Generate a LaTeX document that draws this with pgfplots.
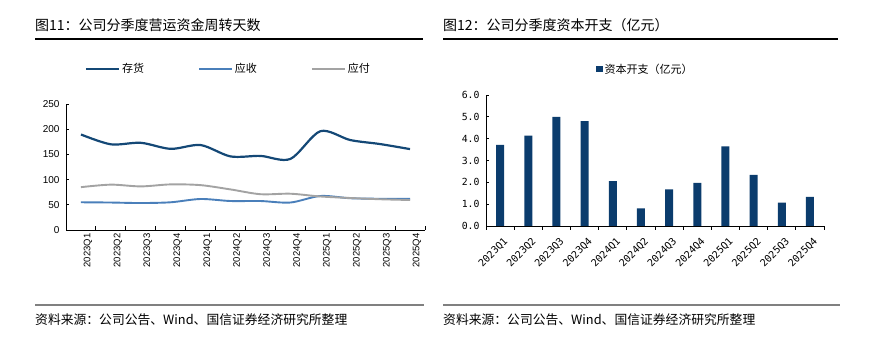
\documentclass[border=0pt]{standalone}
\usepackage{fontspec}
\usepackage{pgfplots}
\pgfplotsset{compat=1.18}
\setmainfont{Liberation Sans}
\newfontfamily\cjk{Noto Sans CJK SC}
\newfontfamily\monof{DejaVu Sans Mono}
\definecolor{cinv}{HTML}{144876}
\definecolor{crec}{HTML}{4A7FBA}
\definecolor{cpay}{HTML}{A3A3A3}
\definecolor{cbar}{HTML}{0B3C6D}
\definecolor{cfoot}{HTML}{808080}
\begin{document}
\begin{tikzpicture}[x=1pt,y=1pt]
\path[use as bounding box] (0,0) rectangle (875,350);
% titles
\node[anchor=west,inner sep=0pt,font=\cjk\fontsize{14}{16}\selectfont] at (35,325) {图11：公司分季度营运资金周转天数};
\draw[line width=1.2pt,black] (35,311) -- (423,311);
\node[anchor=west,inner sep=0pt,font=\cjk\fontsize{14}{16}\selectfont] at (443,325) {图12：公司分季度资本开支（亿元）};
\draw[line width=1.2pt,black] (443,311) -- (838,311);
% footers
\draw[line width=1.5pt,cfoot] (35,45) -- (424,45);
\draw[line width=1.5pt,cfoot] (443,45) -- (840,45);
\node[anchor=west,inner sep=0pt,font=\cjk\fontsize{12.8}{14}\selectfont] at (35,30) {资料来源：公司公告、Wind、国信证券经济研究所整理};
\node[anchor=west,inner sep=0pt,font=\cjk\fontsize{12.8}{14}\selectfont] at (443,30) {资料来源：公司公告、Wind、国信证券经济研究所整理};

% left chart
\begin{axis}[
  at={(66pt,120pt)}, anchor=south west,
  scale only axis, width=359pt, height=126pt,
  xmin=-0.5, xmax=11.5, ymin=0, ymax=250,
  axis x line=bottom, axis y line=left,
  axis line style={-, line width=0.9pt, black},
  tick align=inside,
  xtick={0,...,11},
  xticklabels={2023Q1,2023Q2,2023Q3,2023Q4,2024Q1,2024Q2,2024Q3,2024Q4,2025Q1,2025Q2,2025Q3,2025Q4},
  major x tick style={draw=none},
  minor xtick={-0.5,0.5,...,11.5},
  minor tick length=4pt,
  minor x tick style={line width=0.9pt,black},
  ytick={0,50,...,250},
  major tick length=3pt,
  y tick style={line width=0.9pt,black},
  xticklabel style={rotate=90,anchor=east,font=\fontsize{9.5}{10}\selectfont,yshift=-7pt},
  yticklabel style={font=\fontsize{10}{11}\selectfont,xshift=-3pt},
  /pgf/number format/assume math mode=true,
  legend style={at={(0.052,1.278)},anchor=west,draw=none,fill=none,legend columns=3,
     font=\cjk\fontsize{11}{12}\selectfont,inner sep=0pt,
     /tikz/every even column/.append style={column sep=52pt}},
  legend image code/.code={\draw[#1] (0pt,0pt) -- (33pt,0pt);},
]
\addplot[cinv,line width=2.2pt,smooth] coordinates {
(0,189.5) (1,170) (2,173) (3,161) (4,168.5) (5,146) (6,147) (7,141) (8,196) (9,178.5) (10,170.5) (11,160.5)};
\addlegendentry{存货}
\addplot[crec,line width=1.9pt,smooth] coordinates {
(0,55) (1,54.5) (2,53.5) (3,55) (4,61.5) (5,57.5) (6,57.5) (7,54.5) (8,67.5) (9,63) (10,62) (11,62)};
\addlegendentry{应收}
\addplot[cpay,line width=1.9pt,smooth] coordinates {
(0,85) (1,90) (2,86.5) (3,90.5) (4,89) (5,80.5) (6,71) (7,72) (8,66.5) (9,63.5) (10,61) (11,59.5)};
\addlegendentry{应付}
\end{axis}

% right chart
\begin{axis}[
  at={(486pt,124pt)}, anchor=south west,
  scale only axis, width=338pt, height=131pt,
  xmin=-0.5, xmax=11.5, ymin=0, ymax=6,
  axis x line=bottom, axis y line=left,
  axis line style={-, line width=0.9pt, black},
  tick align=inside,
  ybar, bar width=8pt,
  xtick={0,...,11},
  xticklabels={2023Q1,2023Q2,2023Q3,2023Q4,2024Q1,2024Q2,2024Q3,2024Q4,2025Q1,2025Q2,2025Q3,2025Q4},
  major x tick style={draw=none},
  minor xtick={-0.5,0.5,...,11.5},
  minor tick length=4pt,
  minor x tick style={line width=0.9pt,black},
  ytick={0,1,...,6},
  major tick length=3pt,
  y tick style={line width=0.9pt,black},
  yticklabel style={font=\monof\fontsize{9.8}{11}\selectfont,xshift=-3pt},
  xticklabel style={rotate=45,anchor=north east,font=\monof\fontsize{10}{11}\selectfont,yshift=-4pt},
  /pgf/number format/.cd, fixed, fixed zerofill, precision=1, assume math mode=true,
  /pgfplots/.cd,
  legend style={at={(0.325,1.198)},anchor=west,draw=none,fill=none,
     font=\cjk\fontsize{11}{12}\selectfont,inner sep=0pt},
  legend image code/.code={\fill[#1] (0pt,-3pt) rectangle (6.5pt,3.5pt);},
]
\addplot[fill=cbar,draw=none] coordinates {
(0,3.71) (1,4.14) (2,5.0) (3,4.8) (4,2.06) (5,0.81) (6,1.68) (7,1.97) (8,3.65) (9,2.34) (10,1.07) (11,1.33)};
\addlegendentry{资本开支（亿元）}
\end{axis}
\end{tikzpicture}
\end{document}
